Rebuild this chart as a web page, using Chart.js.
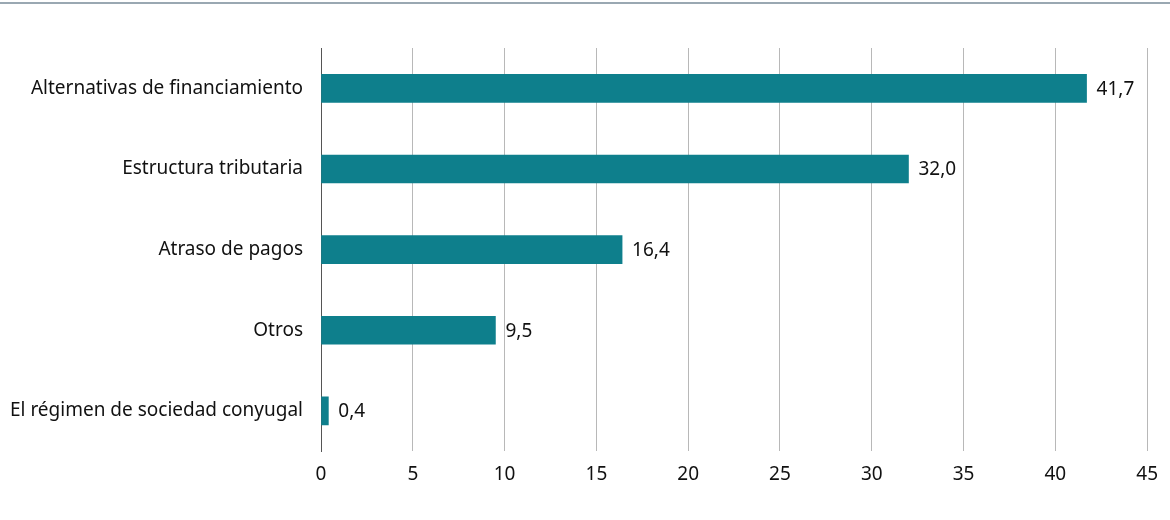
<!DOCTYPE html>
<html>
<head>
<meta charset="utf-8">
<script src="https://cdn.jsdelivr.net/npm/chart.js@4"></script>
<style>
  body { margin: 0; background: #fff; }
  .topline { position: absolute; left: 0; top: 2px; width: 1170px; height: 2px; background: #9aa8b2; }
  .wrap { position: absolute; left: 0; top: 0; width: 1170px; height: 520px; }
</style>
</head>
<body>
<div class="topline"></div>
<div class="wrap"><canvas id="chart-bar"></canvas></div>
<script>
const categories = [
  "Alternativas de financiamiento",
  "Estructura tributaria",
  "Atraso de pagos",
  "Otros",
  "El régimen de sociedad conyugal"
];
const values = [41.7, 32.0, 16.4, 9.5, 0.4];
const xTicks = [0, 5, 10, 15, 20, 25, 30, 35, 40, 45];

const FONT = "'Noto Sans', sans-serif";

// draws the value next to each bar, with comma decimals
const valueLabels = {
  id: "valueLabels",
  afterDatasetsDraw(chart) {
    const ctx = chart.ctx;
    const meta = chart.getDatasetMeta(0);
    ctx.save();
    ctx.font = "19px " + FONT;
    ctx.fillStyle = "#111";
    ctx.textBaseline = "middle";
    meta.data.forEach((bar, i) => {
      ctx.fillText(values[i].toFixed(1).replace(".", ","), bar.x + 10, bar.y + 1);
    });
    ctx.restore();
  },
};

new Chart(document.getElementById("chart-bar"), {
  type: "bar",
  plugins: [valueLabels],
  data: {
    labels: categories,
    datasets: [
      {
        data: values,
        backgroundColor: "#0e7f8c",
        barThickness: 28,
      },
    ],
  },
  options: {
    indexAxis: "y",
    responsive: true,
    maintainAspectRatio: false,
    animation: false,
    layout: { padding: { top: 48, bottom: 22, right: 4, left: 0 } },
    plugins: { legend: { display: false }, tooltip: { enabled: false } },
    scales: {
      x: {
        min: 0,
        max: 45,
        afterBuildTicks(axis) {
          axis.ticks = xTicks.map((v) => ({ value: v }));
        },
        grid: { color: "#b8b8b8", lineWidth: 1, drawTicks: false },
        border: { display: false },
        ticks: { color: "#111", padding: 12, font: { size: 19, family: FONT } },
      },
      y: {
        grid: { display: false },
        border: { display: true, color: "#555", width: 1 },
        ticks: { color: "#111", padding: 10, font: { size: 19, family: FONT } },
      },
    },
  },
});
</script>
</body>
</html>
